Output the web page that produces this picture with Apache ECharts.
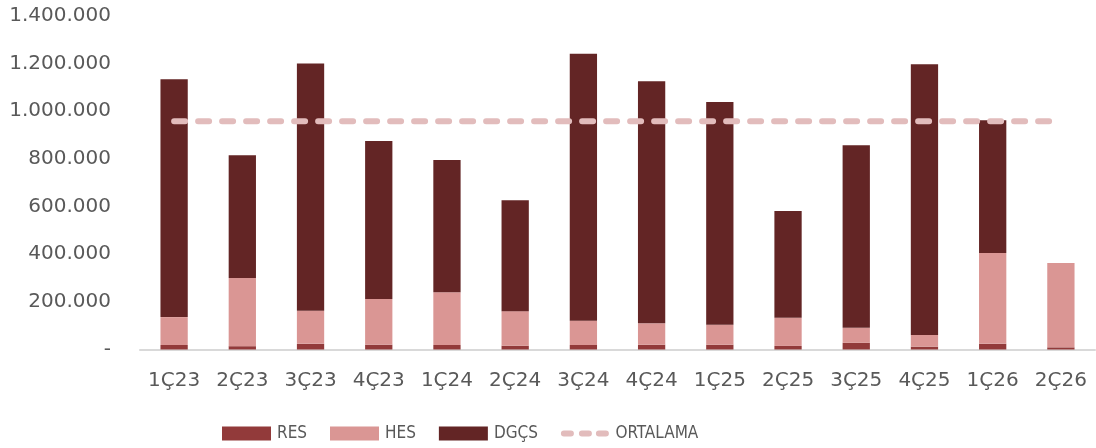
<!DOCTYPE html>
<html>
<head>
<meta charset="utf-8">
<script src="https://cdn.jsdelivr.net/npm/echarts@6/dist/echarts.min.js"></script>
<style>
html,body{margin:0;padding:0;background:#fff;}
#c{width:1096px;height:448px;}
</style>
</head>
<body>
<div id="c"></div>
<script>
var categories = ['1Ç23','2Ç23','3Ç23','4Ç23','1Ç24','2Ç24','3Ç24','4Ç24','1Ç25','2Ç25','3Ç25','4Ç25','1Ç26','2Ç26'];
var resTotals  = [19000,14000,24000,20000,19000,16000,19000,20000,20000,15000,28000,12000,24000,9000];
var hesTops    = [136000,300000,163000,212000,240000,161000,121000,110000,104000,133000,91000,61000,405000,363000];
var barTops    = [1134000,815000,1201000,875000,795000,627000,1242000,1126000,1039000,581000,857000,1197000,962000,363000];
var ortalama   = [958000,958000,958000,958000,958000,958000,958000,958000,958000,958000,958000,958000,958000,958000];
var yTicks = [0,200000,400000,600000,800000,1000000,1200000,1400000];

var res = resTotals.slice();
var hes = hesTops.map(function(v,i){return v - resTotals[i];});
var dgcs = barTops.map(function(v,i){return v - hesTops[i];});

function fmt(v){
  if (v === 0) return '-';
  return String(v).replace(/\B(?=(\d{3})+(?!\d))/g, '.');
}

var AXFONT = 'DejaVu Sans';
var LGFONT = "'DejaVu Sans Condensed', sans-serif";
var dashIcon = 'path://M0,0 M48,14 M3,4 L10,4 A3,3 0 0 1 10,10 L3,10 A3,3 0 0 1 3,4 Z ' +
               'M21,4 L28,4 A3,3 0 0 1 28,10 L21,10 A3,3 0 0 1 21,4 Z ' +
               'M38,4 L45,4 A3,3 0 0 1 45,10 L38,10 A3,3 0 0 1 38,4 Z';

var chart = echarts.init(document.getElementById('c'), null, {renderer:'canvas'});
chart.setOption({
  animation:false,
  textStyle:{fontFamily:AXFONT},
  grid:{left:140,right:1,top:16,bottom:98.5,containLabel:false},
  legend:{
    left:222, top:425, padding:0, itemWidth:49, itemHeight:14, itemGap:23,
    textStyle:{fontSize:17,color:'#595959',fontFamily:LGFONT,padding:[0,0,0,1]},
    data:[{name:'RES',icon:'rect'},{name:'HES',icon:'rect'},{name:'DGÇS',icon:'rect'},{name:'ORTALAMA',icon:dashIcon}]
  },
  xAxis:{
    type:'category', data:categories,
    axisLine:{lineStyle:{color:'#d9d9d9',width:2}},
    axisTick:{show:false},
    axisLabel:{fontSize:20,color:'#595959',margin:21,fontFamily:AXFONT}
  },
  yAxis:{
    type:'value', min:0, max:1400000, interval:200000,
    splitLine:{show:false},
    axisLine:{show:false}, axisTick:{show:false},
    axisLabel:{fontSize:20,color:'#595959',margin:29,fontFamily:AXFONT,formatter:fmt}
  },
  series:[
    {name:'RES',type:'bar',stack:'t',data:res,barWidth:'40%',itemStyle:{color:'#923a3a'}},
    {name:'HES',type:'bar',stack:'t',data:hes,itemStyle:{color:'#da9694'}},
    {name:'DGÇS',type:'bar',stack:'t',data:dgcs,itemStyle:{color:'#632525'}},
    {name:'ORTALAMA',type:'line',data:ortalama,symbol:'none',
     lineStyle:{color:'#e2bcbc',width:6,type:[11,13],cap:'round'},
     itemStyle:{color:'#e2bcbc'}}
  ]
});
</script>
</body>
</html>
